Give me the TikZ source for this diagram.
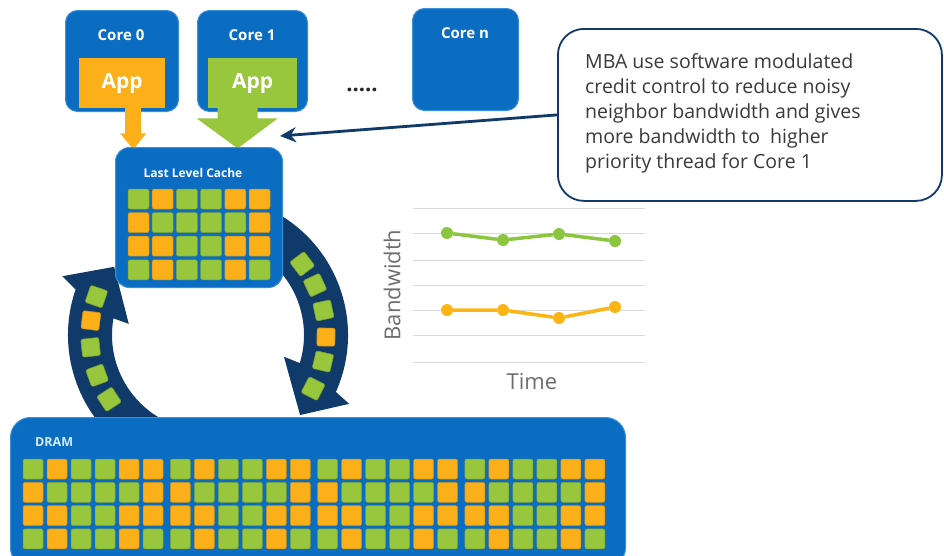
\documentclass[tikz,border=0pt]{standalone}
\usepackage{fontspec}
\setmainfont{Open Sans}
\usetikzlibrary{arrows.meta,calc}

\definecolor{chipblue}{HTML}{0A6DC2}
\definecolor{chipedge}{HTML}{3A8FDA}
\definecolor{cellgreen}{HTML}{98C73D}
\definecolor{cellorange}{HTML}{FBB01A}
\colorlet{cellc0}{cellgreen}
\colorlet{cellc1}{cellorange}
\definecolor{navy}{HTML}{103A69}
\definecolor{gridgray}{HTML}{DADADA}
\definecolor{labelgray}{HTML}{6E6E6E}
\definecolor{textgray}{HTML}{3A3A3A}
\definecolor{seriesgreen}{HTML}{8CC63F}
\definecolor{seriesorange}{HTML}{FDB515}
\definecolor{dramlabel}{HTML}{D8EAF8}

\newcommand{\fs}[1]{\fontsize{#1}{1.2\dimexpr #1pt\relax}\selectfont}

\begin{document}
\begin{tikzpicture}[x=1pt,y=-1pt,
  chip/.style={fill=chipblue, draw=chipedge, line width=1pt, rounded corners=12pt,
               anchor=north west, inner sep=0pt},
  appbox/.style={anchor=north west, inner sep=0pt, minimum height=50pt,
                 text=white, font=\bfseries\fs{21}},
  chiplabel/.style={text=white, font=\bfseries\fs{15}, inner sep=0pt},
  arcsq/.style={minimum size=18pt, inner sep=0pt, rounded corners=2pt, line width=0.6pt},
  dotmark/.style={circle, minimum size=12pt, inner sep=0pt},
  axislabel/.style={text=labelgray, font=\fs{22}, inner sep=0pt}
]
\clip (0,0) rectangle (944,555);
\fill[white] (0,0) rectangle (944,555);

% ---- transfer ring between cache and memory ----
\coordinate (ring) at (208,335);
% upward arrow (memory -> cache)
\fill[navy] ($(ring)+(118:96)$) arc[start angle=118, end angle=190, radius=96]
  -- ($(ring)+(188:80)$) -- ($(ring)+(216:116)$) -- ($(ring)+(202:157)$)
  -- ($(ring)+(199:140)$) arc[start angle=199, end angle=118, radius=140] -- cycle;
% downward arrow (cache -> memory)
\fill[navy] ($(ring)+(-62:96)$) arc[start angle=-62, end angle=17, radius=96]
  -- ($(ring)+(16:79)$) -- ($(ring)+(41:122)$) -- ($(ring)+(26:157)$)
  -- ($(ring)+(24:140)$) arc[start angle=24, end angle=-62, radius=140] -- cycle;
% cache lines travelling on the ring
\foreach \t/\k [count=\i] in {199/0,187/1,174/0,160/0,147/0}
  \node[arcsq, fill=cellc\k, draw=cellc\k!80!black, rotate=-\t] (up\i) at ($(ring)+(\t:118)$) {};
\foreach \t/\k [count=\i] in {-37/0,-25/0,-12/0,1/1,13/0,27/0}
  \node[arcsq, fill=cellc\k, draw=cellc\k!80!black, rotate=-\t] (down\i) at ($(ring)+(\t:118)$) {};

% ---- cores ----
\node[chip, minimum width=113pt, minimum height=101pt] (core0) at (65,10) {};
\node[chip, minimum width=110pt, minimum height=101pt] (core1) at (197,10) {};
\node[chip, minimum width=106pt, minimum height=102pt] (coren) at (412,8) {};
\node[chiplabel] (core0lbl) at (121,35) {Core 0};
\node[chiplabel] (core1lbl) at (252,35) {Core 1};
\node[chiplabel] (corenlbl) at (465,33) {Core n};
\node[appbox, fill=cellorange, minimum width=86pt] (app0) at (79,58) {App};
\node[appbox, fill=cellgreen, minimum width=89pt] (app1) at (208,58) {App};
\node[font=\bfseries\fs{22}, text=black!85, inner sep=0pt, anchor=base] (more) at (362,91) {.....};

% request arrows from the applications into the cache
\fill[cellorange] ($(app0.south)+(3,-1)$) -- ++(16,0) -- ++(0,26) -- ++(5,0)
  -- ++(-13,16) -- ++(-13,-16) -- ++(5,0) -- cycle;
\fill[cellgreen] ($(app1.south)+(-35,-1)$) -- ++(40,0) -- ++(0,11) -- ++(20,0)
  -- ++(-40,30) -- ++(-41,-30) -- ++(21,0) -- cycle;

% ---- last level cache ----
\node[chip, rounded corners=14pt, minimum width=167pt, minimum height=140pt] (llc) at (115,147) {};
\node[chiplabel, font=\bfseries\fs{12}] (llclbl) at (193,173) {Last Level Cache};
\foreach \r/\pat in {0/{0,1,0,0,1,1},1/{1,0,0,0,0,1},2/{1,1,0,0,1,1},3/{0,1,0,0,1,0}}
  \foreach \k [count=\j from 0] in \pat
    \filldraw[fill=cellc\k, draw=cellc\k!80!black, line width=0.5pt, rounded corners=2pt]
      ({128+\j*24.2},{189+\r*23.6}) rectangle ++(21,20);

% ---- DRAM ----
\node[chip, rounded corners=20pt, minimum width=615pt, minimum height=150pt] (dram) at (10,417) {};
\node[chiplabel, text=dramlabel, font=\bfseries\fs{12.5}, anchor=west] (dramlbl) at (35,442) {DRAM};
\foreach \r/\pat in {0/{0,1,0,0,1,1},1/{1,0,0,0,0,1},2/{1,1,0,0,1,1},3/{0,1,0,0,1,0}}
  \foreach \g in {0,1,2,3}
    \foreach \k [count=\j from 0] in \pat
      \filldraw[fill=cellc\k, draw=cellc\k!80!black, line width=0.5pt, rounded corners=2pt]
        ({23+(\g*6+\j)*24+\g*3.3},{459+\r*23.3}) rectangle ++(20,20);

% ---- bandwidth chart ----
\foreach \y in {208,233,260,285,310,335,362}
  \draw[gridgray, line width=1pt] (413,\y) -- (645,\y);
\foreach \x/\y [count=\i] in {447/233,503/240,559/234,615/241}
  \node[dotmark, fill=seriesgreen] (g\i) at (\x,\y) {};
\foreach \x/\y [count=\i] in {447/310,503/310,559/318,615/307}
  \node[dotmark, fill=seriesorange] (o\i) at (\x,\y) {};
\draw[seriesgreen, line width=3.5pt] (g1) -- (g2) -- (g3) -- (g4);
\draw[seriesorange, line width=3.5pt] (o1) -- (o2) -- (o3) -- (o4);
\node[axislabel, rotate=90] (ylbl) at (392,285) {Bandwidth};
\node[axislabel] (xlbl) at (532,382) {Time};

% ---- annotation ----
\node[draw=navy, line width=1.8pt, rounded corners=26pt, minimum width=384pt,
      minimum height=172pt, anchor=north west, inner sep=0pt] (note) at (557,28) {};
% base anchor of a multi-line node sits on its last line
\node[anchor=base west, align=left, text=textgray, inner sep=0pt,
      font=\fontsize{19.5}{25}\selectfont] (notetext) at (585,168.5)
  {MBA use software modulated\\credit control to reduce noisy\\neighbor bandwidth and gives\\more bandwidth to\ \ higher\\priority thread for Core 1};
\coordinate (target) at (280,136);
\draw[navy, line width=2.8pt, -{Stealth[length=16pt,width=15pt]}] (note.west) -- (target);
\end{tikzpicture}
\end{document}
